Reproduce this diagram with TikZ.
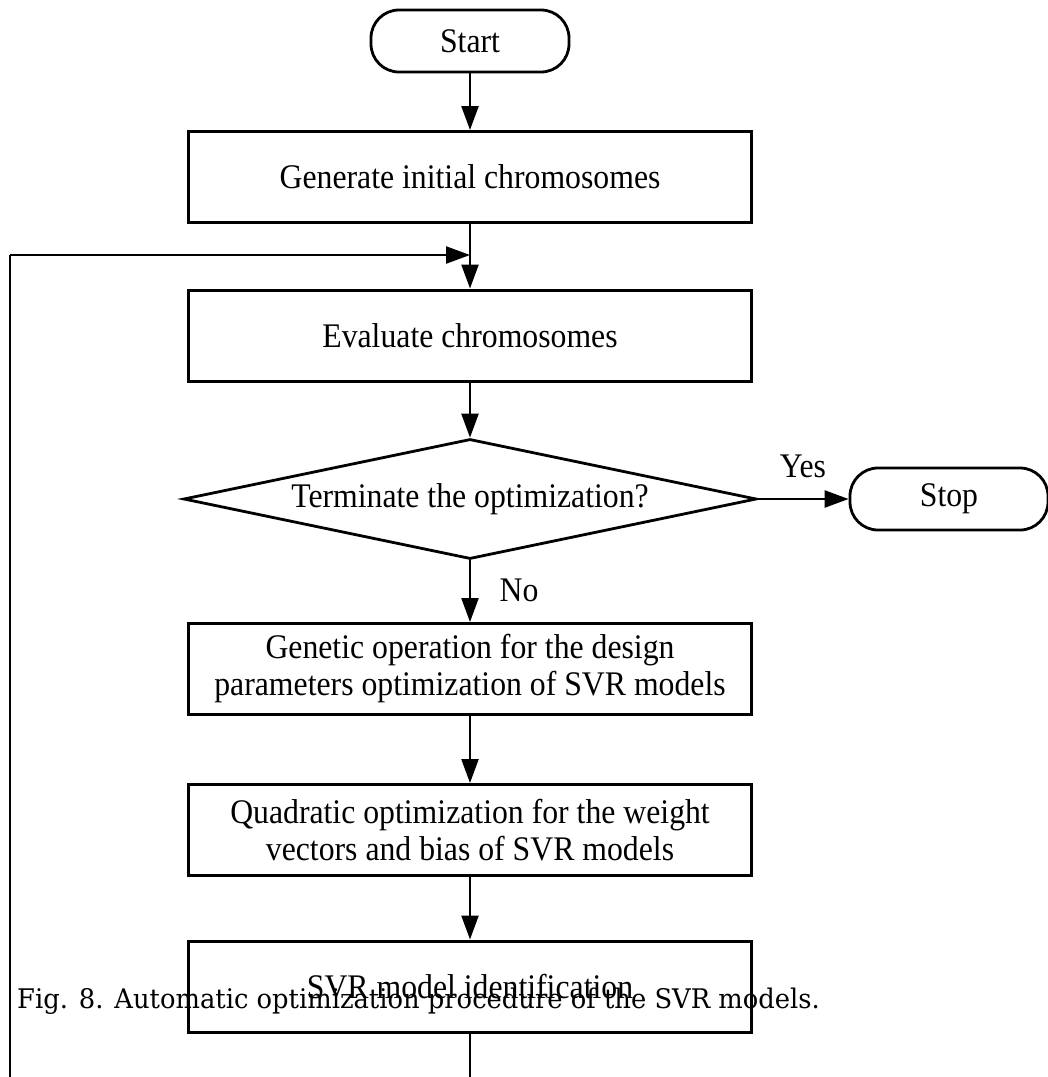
\documentclass[tikz,border=0pt]{standalone}
\usepackage{fontspec}
\setmainfont[FakeStretch=0.92]{Liberation Serif}
\newfontfamily\capfont[FakeStretch=0.955]{DejaVu Serif}
\usetikzlibrary{shapes.geometric,arrows.meta}
\begin{document}
\begin{tikzpicture}[x=1pt,y=-1pt,
  every node/.style={font=\fontsize{34.5}{37}\selectfont},
  terminal/.style={draw, line width=2.8pt, rounded corners=28pt, minimum width=198pt, minimum height=62pt, inner sep=0pt},
  procbox/.style={draw, line width=3pt, minimum width=563pt, minimum height=91pt, inner sep=0pt, align=center},
  decision/.style={draw, line width=2.8pt, diamond, aspect=4.775, minimum width=573pt, minimum height=120pt, inner sep=0pt},
  flow/.style={line width=2.4pt, -{Triangle[length=24pt,width=17pt]}},
  plainline/.style={line width=2.4pt}]
\useasboundingbox (0,0) rectangle (1048,1077);
\clip (0,0) rectangle (1048,1077);
\node[terminal] (start) at (470,41) {Start};
\node[procbox] (gen) at (470,177) {Generate initial chromosomes};
\node[procbox] (eval) at (470,335.5) {Evaluate chromosomes};
\node[decision] (dec) at (470,499) {Terminate the optimization?};
\node[terminal] (stop) at (949,499) {Stop};
\node[procbox] (genop) at (470,669) {Genetic operation for the design\\parameters optimization of SVR models};
\node[procbox] (quad) at (470,830) {Quadratic optimization for the weight\\vectors and bias of SVR models};
\node[procbox] (svr) at (470,986.5) {SVR model identification};
\node (yes) at (803,466) {Yes};
\node (no) at (519,590) {No};
\coordinate (loopbot) at (470,1120);
\coordinate (loopleft) at (10,1120);
\coordinate (looptop) at (10,255);
\coordinate (join) at (470,255);
\draw[flow] (start) -- (gen);
\draw[flow] (gen) -- (eval);
\draw[flow] (eval) -- (dec);
\draw[flow] (dec.east) -- (stop.west);
\draw[flow] (dec.south) -- (genop);
\draw[flow] (genop) -- (quad);
\draw[flow] (quad) -- (svr);
\draw[plainline] (svr.south) -- (loopbot) -- (loopleft) -- (looptop);
\draw[flow] (looptop) -- (join);
\node[anchor=base west, inner sep=0pt, font=\capfont\fontsize{27}{30}\selectfont] (cap) at (17,1008) {Fig. 8. Automatic optimization procedure of the SVR models.};
\end{tikzpicture}
\end{document}
